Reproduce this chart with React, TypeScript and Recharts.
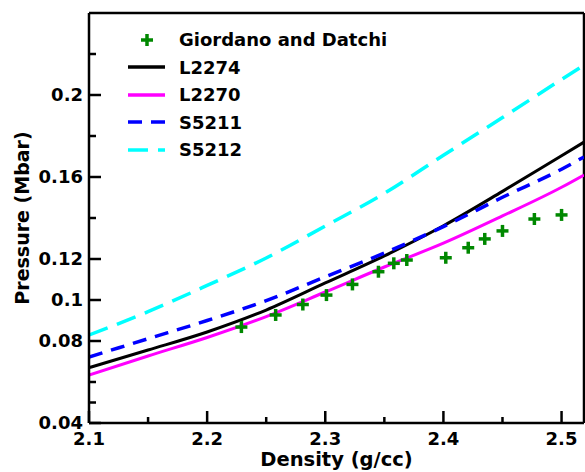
import { ComposedChart, Line, Scatter, XAxis, YAxis, ReferenceLine } from 'recharts';

// curve samples (density in g/cc, pressure in Mbar)
const densities = [2.1, 2.15, 2.2, 2.25, 2.3, 2.35, 2.4, 2.45, 2.5, 2.519];
const l2274 = [0.067, 0.0756, 0.0844, 0.0951, 0.1083, 0.1215, 0.1362, 0.153, 0.1704, 0.177];
const l2270 = [0.0634, 0.0727, 0.0817, 0.0919, 0.1039, 0.1161, 0.1277, 0.141, 0.155, 0.161];
const s5211 = [0.0722, 0.0811, 0.09, 0.0997, 0.1113, 0.1229, 0.1358, 0.1501, 0.1638, 0.1698];
const s5212 = [0.0829, 0.0943, 0.1071, 0.1205, 0.1361, 0.152, 0.1706, 0.189, 0.2076, 0.2146];

// experimental points
const gdDensity = [2.229, 2.258, 2.281, 2.301, 2.323, 2.345, 2.358, 2.369, 2.402, 2.421, 2.435, 2.45, 2.477, 2.5];
const gdPressure = [0.0868, 0.0927, 0.0978, 0.1024, 0.1076, 0.1138, 0.1179, 0.1195, 0.1206, 0.1255, 0.1298, 0.1337, 0.1395, 0.1415];

const xTicks = [2.1, 2.15, 2.2, 2.25, 2.3, 2.35, 2.4, 2.45, 2.5];
const xLabels = [2.1, 2.2, 2.3, 2.4, 2.5];
const yTicks = [0.04, 0.05, 0.06, 0.08, 0.1, 0.12, 0.14, 0.16, 0.18, 0.2, 0.22];
const yLabels = [0.04, 0.08, 0.1, 0.12, 0.16, 0.2];

const X_DOMAIN: [number, number] = [2.1, 2.519];
const Y_DOMAIN: [number, number] = [0.04, 0.24];

const FONT = '"DejaVu Sans", sans-serif';
const GREEN = '#008800';

const curveRows = densities.map((d, i) => ({
  d,
  l2274: l2274[i],
  l2270: l2270[i],
  s5211: s5211[i],
  s5212: s5212[i],
}));
const gdRows = gdDensity.map((d, i) => ({ d, p: gdPressure[i] }));

const isLabel = (list: number[], v: number) => list.some((l) => Math.abs(l - v) < 1e-6);

const XTick = (props: any) => {
  const { x, y, payload } = props;
  const major = isLabel(xLabels, payload.value);
  return (
    <g>
      <line x1={x} x2={x} y1={y} y2={y - (major ? 12 : 6)} stroke="#000" strokeWidth={2.5} />
      {major && (
        <text x={x} y={y + 22} textAnchor="middle" fontFamily={FONT} fontWeight="bold" fontSize={18} fill="#000">
          {String(payload.value)}
        </text>
      )}
    </g>
  );
};

const YTick = (props: any) => {
  const { x, y, payload } = props;
  const major = isLabel(yLabels, payload.value);
  return (
    <g>
      <line x1={x} x2={x + (major ? 12 : 7)} y1={y} y2={y} stroke="#000" strokeWidth={2.5} />
      {major && (
        <text x={x - 6} y={y} dy="0.36em" textAnchor="end" fontFamily={FONT} fontWeight="bold" fontSize={18} fill="#000">
          {String(payload.value)}
        </text>
      )}
    </g>
  );
};

const XTitle = ({ viewBox }: any) => (
  <text
    x={viewBox.x + viewBox.width / 2}
    y={466}
    textAnchor="middle"
    fontFamily={FONT}
    fontWeight="bold"
    fontSize={19.5}
    fill="#000"
  >
    Density (g/cc)
  </text>
);

const YTitle = ({ viewBox }: any) => {
  const cy = viewBox.y + viewBox.height / 2;
  return (
    <text
      x={22}
      y={cy}
      dy="0.36em"
      transform={`rotate(-90 22 ${cy})`}
      textAnchor="middle"
      fontFamily={FONT}
      fontWeight="bold"
      fontSize={19}
      fill="#000"
    >
      Pressure (Mbar)
    </text>
  );
};

const Plus = (props: any) => {
  const { cx, cy } = props;
  if (cx == null || cy == null) return null;
  return (
    <g>
      <line x1={cx - 6} x2={cx + 6} y1={cy} y2={cy} stroke={GREEN} strokeWidth={3.5} />
      <line x1={cx} x2={cx} y1={cy - 6} y2={cy + 6} stroke={GREEN} strokeWidth={3.5} />
    </g>
  );
};

const legendItems = [
  { name: 'Giordano and Datchi', color: GREEN, dash: 'plus' },
  { name: 'L2274', color: '#000000', dash: '' },
  { name: 'L2270', color: '#ff00ff', dash: '' },
  { name: 'S5211', color: '#0000ff', dash: '14 9' },
  { name: 'S5212', color: '#00ffff', dash: '20 10' },
];

function ChartLegend() {
  return (
    <div style={{ position: 'absolute', left: 128, top: 26, fontFamily: FONT, fontWeight: 'bold', fontSize: 18 }}>
      {legendItems.map((it) => (
        <div key={it.name} style={{ display: 'flex', alignItems: 'center', height: 27.5 }}>
          <svg width={37} height={14} style={{ display: 'block' }}>
            {it.dash === 'plus' ? (
              <Plus cx={19} cy={7} />
            ) : (
              <line x1={0} x2={37} y1={7} y2={7} stroke={it.color} strokeWidth={3.5} strokeDasharray={it.dash || undefined} />
            )}
          </svg>
          <span style={{ marginLeft: 14, lineHeight: '27.5px', color: '#000' }}>{it.name}</span>
        </div>
      ))}
    </div>
  );
}

export default function App() {
  return (
    <div style={{ position: 'absolute', left: 0, top: 0, width: 585, height: 472, background: '#fff' }}>
      <ComposedChart width={585} height={472} data={curveRows} margin={{ top: 13, right: 1, left: 0, bottom: 0 }}>
        <XAxis
          dataKey="d"
          type="number"
          domain={X_DOMAIN}
          allowDataOverflow
          ticks={xTicks}
          interval={0}
          tickSize={0}
          tickMargin={0}
          tick={<XTick />}
          height={49}
          axisLine={{ stroke: '#000', strokeWidth: 2.5 }}
          tickLine={false}
          label={XTitle}
        />
        <YAxis
          type="number"
          domain={Y_DOMAIN}
          allowDataOverflow
          ticks={yTicks}
          interval={0}
          tickSize={0}
          tickMargin={0}
          tick={<YTick />}
          width={89}
          axisLine={{ stroke: '#000', strokeWidth: 2.5 }}
          tickLine={false}
          label={YTitle}
        />
        {/* frame: top and right edges */}
        <ReferenceLine y={Y_DOMAIN[1]} stroke="#000" strokeWidth={2.5} />
        <ReferenceLine x={X_DOMAIN[1]} stroke="#000" strokeWidth={2.5} />
        <Line type="monotone" dataKey="l2274" stroke="#000000" strokeWidth={3} dot={false} isAnimationActive={false} />
        <Line type="monotone" dataKey="l2270" stroke="#ff00ff" strokeWidth={3} dot={false} isAnimationActive={false} />
        <Line
          type="monotone"
          dataKey="s5211"
          stroke="#0000ff"
          strokeWidth={3.5}
          strokeDasharray="14 9"
          dot={false}
          isAnimationActive={false}
        />
        <Line
          type="monotone"
          dataKey="s5212"
          stroke="#00ffff"
          strokeWidth={3.5}
          strokeDasharray="20 10"
          dot={false}
          isAnimationActive={false}
        />
        <Scatter data={gdRows} dataKey="p" shape={<Plus />} isAnimationActive={false} />
      </ComposedChart>
      <ChartLegend />
    </div>
  );
}
